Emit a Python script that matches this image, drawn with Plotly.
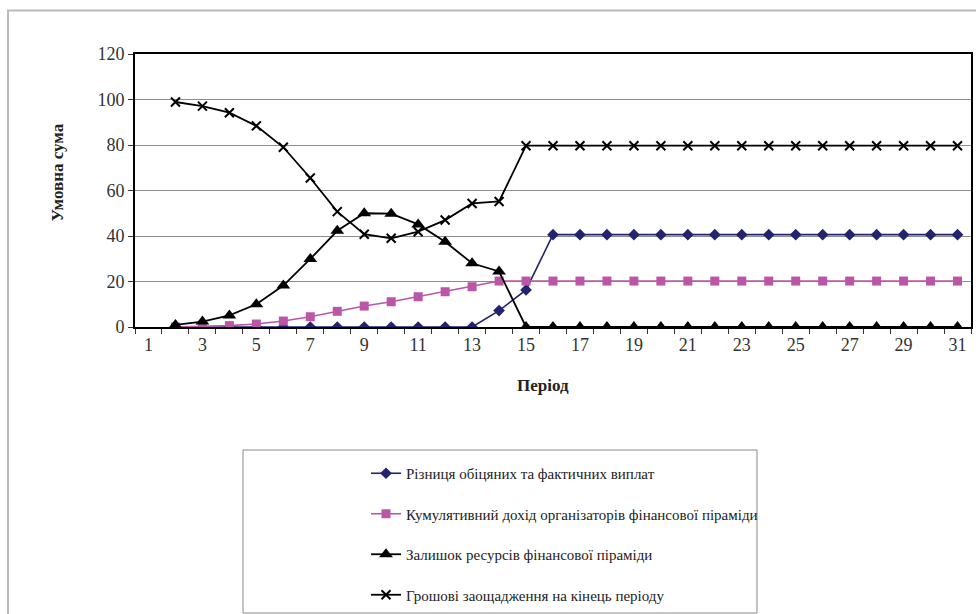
import plotly.graph_objects as go

# Periods shown on the category axis and the periods that carry data
axis_periods = list(range(1, 32))
periods = list(range(2, 32))

# Різниця обіцяних та фактичних виплат
promised_gap = [0, 0, 0, 0, 0, 0, 0, 0, 0, 0, 0, 0, 7.2, 16.3] + [40.6] * 16
# Кумулятивний дохід організаторів фінансової піраміди
organizer_income = [0, 0.2, 0.6, 1.3, 2.6, 4.5, 6.9, 9.2, 11.1, 13.3, 15.5, 17.7, 20.2] + [20.2] * 17
# Залишок ресурсів фінансової піраміди
pyramid_resources = [0.9, 2.4, 5.1, 10.0, 18.2, 29.9, 42.3, 50.0, 49.8, 45.1, 37.5, 28.0, 24.4] + [0] * 17
# Грошові заощадження на кінець періоду
savings = [98.9, 97.1, 94.2, 88.4, 79.0, 65.5, 50.7, 40.8, 39.0, 41.9, 47.0, 54.3, 55.2] + [79.7] * 17

y_ticks = [0, 20, 40, 60, 80, 100, 120]
x_tick_labels = [str(p) for p in axis_periods[::2]]

SERIF = "Liberation Serif, Times New Roman, serif"
NAVY = "#232370"
PINK = "#BB55A6"

fig = go.Figure()

fig.add_trace(go.Scatter(
    x=periods, y=promised_gap, mode="lines+markers",
    name="Різниця обіцяних та фактичних виплат", legendgroup="a",
    line=dict(color=NAVY, width=1.6),
    marker=dict(symbol="diamond", size=9, color=NAVY),
))
fig.add_trace(go.Scatter(
    x=periods, y=organizer_income, mode="lines+markers",
    name="Кумулятивний дохід організаторів фінансової піраміди", legendgroup="b",
    line=dict(color=PINK, width=1.6),
    marker=dict(symbol="square", size=9, color=PINK),
))
fig.add_trace(go.Scatter(
    x=periods, y=pyramid_resources, mode="lines+markers",
    name="Залишок ресурсів фінансової піраміди", legendgroup="c",
    line=dict(color="black", width=1.8),
    marker=dict(symbol="triangle-up", size=12, color="black"),
))
fig.add_trace(go.Scatter(
    x=periods, y=savings, mode="lines+markers",
    name="Грошові заощадження на кінець періоду", legendgroup="d",
    line=dict(color="black", width=1.8),
    marker=dict(symbol="x-thin", size=9, color="black",
                line=dict(color="black", width=2)),
))

# plot area spans x 135..971 px and y 54..327 px
L, R, T, B = 135, 5, 54, 287
W, H = 976 - L - R, 614 - T - B


def px_x(px):
    return (px - L) / W


def px_y(py):
    return (T + H - py) / H


fig.update_layout(
    width=976, height=614,
    margin=dict(l=L, r=R, t=T, b=B, autoexpand=False),
    paper_bgcolor="white", plot_bgcolor="white",
    font=dict(family=SERIF, size=16, color="#333333"),
    showlegend=True,
    legend=dict(
        x=px_x(366), y=px_y(457), xanchor="left", yanchor="top",
        bgcolor="rgba(0,0,0,0)", borderwidth=0,
        font=dict(family=SERIF, size=15, color="#222222"),
        tracegroupgap=18,
    ),
    xaxis=dict(
        range=[0.5, 31.5],
        tickmode="array", tickvals=axis_periods[::2], ticktext=x_tick_labels,
        ticks="", showgrid=False, zeroline=False,
        showline=True, linecolor="black", linewidth=2, mirror=True,
        minor=dict(ticks="outside", tick0=0.5, dtick=1, ticklen=5,
                   tickcolor="#333333", showgrid=False),
        tickfont=dict(family=SERIF, size=18, color="#333333"),
        fixedrange=True,
    ),
    yaxis=dict(
        range=[0, 120], tickmode="array", tickvals=y_ticks,
        ticks="outside", ticklen=5, tickcolor="#333333",
        showgrid=True, gridcolor="#8c8c8c", gridwidth=1, zeroline=False,
        showline=True, linecolor="black", linewidth=2, mirror=True,
        tickfont=dict(family=SERIF, size=18, color="#333333"),
        fixedrange=True,
    ),
    shapes=[
        # outer chart frame
        dict(type="rect", xref="paper", yref="paper",
             x0=px_x(8), x1=px_x(990), y0=px_y(630), y1=px_y(10.5),
             line=dict(color="#BBBBBB", width=2), fillcolor="rgba(0,0,0,0)",
             layer="below"),
        # legend frame
        dict(type="rect", xref="paper", yref="paper",
             x0=px_x(243), x1=px_x(757), y0=px_y(613), y1=px_y(450),
             line=dict(color="#8a8a8a", width=1), fillcolor="rgba(0,0,0,0)",
             layer="below"),
    ],
    annotations=[
        dict(text="<b>Умовна сума</b>", xref="paper", yref="paper",
             x=px_x(45), y=px_y(173), showarrow=False, textangle=-90,
             font=dict(family=SERIF, size=17, color="#222222")),
        dict(text="<b>Період</b>", xref="paper", yref="paper",
             x=px_x(543), y=px_y(397), showarrow=False,
             font=dict(family=SERIF, size=17, color="#222222")),
    ],
)

fig.write_html("out.html")
